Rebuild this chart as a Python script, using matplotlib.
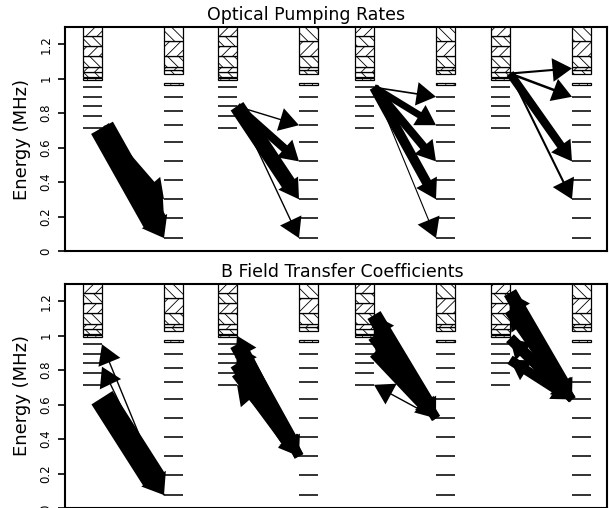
import matplotlib
matplotlib.use("Agg")
import matplotlib.pyplot as plt
from matplotlib.patches import Rectangle, FancyArrowPatch, ArrowStyle

plt.rcParams['font.family'] = ['DejaVu Sans']
plt.rcParams['hatch.linewidth'] = 0.6

# sublevel energies (MHz): upper column (left) and lower column (right)
upper_levels = [0.715, 0.785, 0.84, 0.895, 0.95]
upper_box = 1.0
upper_bands = [1.01, 1.04, 1.07, 1.13, 1.19, 1.25, 1.32]
lower_levels = [0.075, 0.19, 0.30, 0.41, 0.52, 0.63, 0.73, 0.81, 0.895]
lower_box = 0.97
lower_bands = [1.03, 1.05, 1.07, 1.13, 1.22, 1.32]

# optical pumping: group, upper energy, lower energy, rate (arrow width, pt)
pump_group = [0, 0, 0, 1, 1, 1, 1, 2, 2, 2, 2, 2, 3, 3, 3, 3]
pump_upper = [0.715, 0.715, 0.715, 0.84, 0.84, 0.84, 0.84,
              0.95, 0.95, 0.95, 0.95, 0.95, 1.03, 1.03, 1.03, 1.03]
pump_lower = [0.075, 0.19, 0.30, 0.73, 0.52, 0.30, 0.075,
              0.895, 0.73, 0.52, 0.30, 0.075, 1.06, 0.895, 0.52, 0.30]
pump_rate = [18, 12, 6, 1, 6, 11, 1, 1.2, 5, 6, 7, 0.8, 1.5, 1.8, 6, 1.5]

# B field transfer: group, upper energy, lower energy, coefficient, direction
# (+1 upper -> lower, -1 lower -> upper)
bf_group = [0, 0, 0,
            1, 1, 1, 1, 1, 1,
            2, 2, 2, 2, 2, 2,
            3, 3, 3, 3, 3, 3, 3, 3]
bf_upper = [0.64, 0.95, 0.82,
            0.95, 0.84, 0.785, 1.0, 0.94, 0.715,
            1.12, 1.0, 0.9, 1.12, 1.0, 0.715,
            1.25, 1.15, 0.985, 0.86, 1.25, 1.15, 0.985, 0.86]
bf_lower = [0.075, 0.075, 0.075,
            0.30, 0.30, 0.30, 0.30, 0.30, 0.30,
            0.52, 0.52, 0.52, 0.52, 0.52, 0.52,
            0.63, 0.63, 0.63, 0.63, 0.63, 0.63, 0.63, 0.63]
bf_coef = [18, 1, 1,
           11, 11, 9, 7, 7, 1,
           11, 10, 8, 7, 6, 1,
           10, 9, 8, 7, 6, 6, 6, 4]
bf_dir = [1, -1, -1,
          1, 1, 1, -1, -1, -1,
          1, 1, 1, -1, -1, -1,
          1, 1, 1, 1, -1, -1, -1, -1]

# column layout in axis units (one unit = one pixel)
upper_x = [18, 153, 290, 426]
col_gap = 81
col_w = 19
hatches = ['\\\\\\', '///', '\\\\\\', '///', '\\\\\\', '///']


def draw_column(ax, x0, levels, box, bands):
    ax.hlines(levels, x0, x0 + col_w, color='#222222', lw=1.3, zorder=2)
    ax.add_patch(Rectangle((x0, box - 0.006), col_w, 0.012, facecolor='white',
                           edgecolor='black', lw=0.9, hatch='||', zorder=2))
    for i in range(len(bands) - 1):
        ax.add_patch(Rectangle((x0, bands[i]), col_w, bands[i + 1] - bands[i],
                               facecolor='white', edgecolor='black', lw=0.9,
                               hatch=hatches[i % len(hatches)], zorder=2))


def draw_arrow(ax, tail, tip, width):
    hw = max(17, width + 3)
    style = ArrowStyle.Simple(head_length=14, head_width=hw, tail_width=width)
    ax.add_patch(FancyArrowPatch(tail, tip, arrowstyle=style, mutation_scale=1,
                                 color='black', lw=0, shrinkA=0, shrinkB=0,
                                 zorder=4))


def setup(ax, title, title_x):
    ax.set_xlim(0, 542)
    ax.set_ylim(0, 1.3)
    ax.set_xticks([])
    ax.set_yticks([0, 0.2, 0.4, 0.6, 0.8, 1.0, 1.2])
    ax.set_yticklabels(['0', '0.2', '0.4', '0.6', '0.8', '1', '1.2'],
                       rotation=90, va='center', fontsize=8.5)
    ax.tick_params(axis='y', direction='out', length=5, width=1.2, pad=4)
    for s in ax.spines.values():
        s.set_linewidth(1.5)
    ax.set_ylabel('Energy (MHz)', fontsize=13, labelpad=6)
    ax.text(title_x, 1.012, title, transform=ax.transAxes, ha='center',
            va='bottom', fontsize=12.5)
    for x0 in upper_x:
        draw_column(ax, x0, upper_levels, upper_box, upper_bands)
        draw_column(ax, x0 + col_gap, lower_levels, lower_box, lower_bands)


fig = plt.figure(figsize=(6.09, 5.08), dpi=100)
ax1 = fig.add_axes([65 / 609, 257 / 508, 542 / 609, 224 / 508])
ax2 = fig.add_axes([65 / 609, 0, 542 / 609, 224 / 508])

setup(ax1, 'Optical Pumping Rates', 0.445)
setup(ax2, 'B Field Transfer Coefficients', 0.511)

for g, eu, el, w in zip(pump_group, pump_upper, pump_lower, pump_rate):
    xu = upper_x[g] + col_w
    xl = upper_x[g] + col_gap
    draw_arrow(ax1, (xu, eu), (xl, el), w)

for g, eu, el, w, d in zip(bf_group, bf_upper, bf_lower, bf_coef, bf_dir):
    xu = upper_x[g] + col_w
    xl = upper_x[g] + col_gap
    if d > 0:
        draw_arrow(ax2, (xu, eu), (xl, el), w)
    else:
        draw_arrow(ax2, (xl, el), (xu, eu), w)

fig.savefig('out.png', dpi=100)
